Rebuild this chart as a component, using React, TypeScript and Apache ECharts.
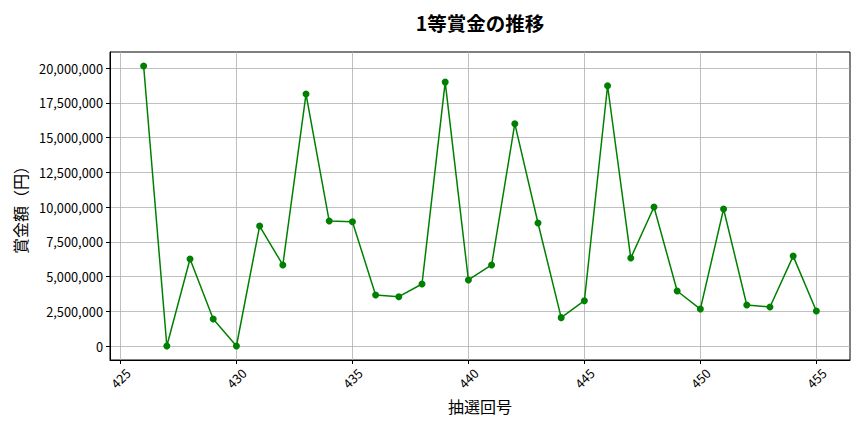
import { useEffect, useRef } from 'react'
import * as echarts from 'echarts'

const rounds = [
  426, 427, 428, 429, 430, 431, 432, 433, 434, 435, 436, 437, 438, 439, 440,
  441, 442, 443, 444, 445, 446, 447, 448, 449, 450, 451, 452, 453, 454, 455,
]
const prizes = [
  20150000, 0, 6260000, 1940000, 0, 8630000, 5830000, 18130000, 8990000, 8940000,
  3670000, 3550000, 4460000, 18990000, 4750000, 5830000, 16000000, 8850000, 2040000, 3260000,
  18730000, 6330000, 10000000, 3960000, 2660000, 9860000, 2950000, 2810000, 6470000, 2520000,
]
const xTicks = [425, 430, 435, 440, 445, 450, 455]
const yTicks = [0, 2500000, 5000000, 7500000, 10000000, 12500000, 15000000, 17500000, 20000000]

const FONT = '"Noto Sans CJK JP", "Noto Sans", sans-serif'

// matplotlib-style 5% margins around the data
const xSpan = rounds[rounds.length - 1] - rounds[0]
const xMin = rounds[0] - xSpan * 0.05
const xMax = rounds[rounds.length - 1] + xSpan * 0.05
const yTop = Math.max(...prizes)
const yMin = -yTop * 0.05
const yMax = yTop * 1.05

export default function App() {
  const ref = useRef<HTMLDivElement | null>(null)

  useEffect(() => {
    if (!ref.current) {
      return
    }
    const chart = echarts.init(ref.current, undefined, { renderer: 'svg' })

    chart.setOption({
      animation: false,
      backgroundColor: '#ffffff',
      textStyle: { fontFamily: FONT },
      title: {
        text: '1等賞金の推移',
        left: 475,
        top: 8,
        textAlign: 'center',
        textStyle: { fontFamily: FONT, fontSize: 19.5, fontWeight: 'bold', color: '#000' },
      },
      grid: {
        left: 110,
        right: 14,
        top: 52,
        bottom: 72,
        show: true,
        borderColor: '#000',
        borderWidth: 1,
        backgroundColor: 'transparent',
      },
      xAxis: {
        type: 'value',
        min: xMin,
        max: xMax,
        name: '抽選回号',
        nameLocation: 'middle',
        nameGap: 38,
        nameTextStyle: { fontFamily: FONT, fontSize: 16, color: '#000' },
        axisLine: { show: true, onZero: false, lineStyle: { color: '#000', width: 1 } },
        axisTick: {
          show: true,
          inside: false,
          length: 4,
          customValues: xTicks,
          lineStyle: { color: '#000' },
        },
        axisLabel: {
          customValues: xTicks,
          rotate: 45,
          align: 'center',
          verticalAlign: 'middle',
          margin: 18,
          fontSize: 12.8,
          color: '#000',
          fontFamily: FONT,
        },
        splitLine: { show: true, lineStyle: { color: '#b0b0b0', width: 0.8 } },
      },
      yAxis: {
        type: 'value',
        min: yMin,
        max: yMax,
        name: '賞金額（円）',
        nameLocation: 'middle',
        nameGap: 80,
        nameRotate: 90,
        nameTextStyle: { fontFamily: FONT, fontSize: 16, color: '#000' },
        axisLine: { show: true, onZero: false, lineStyle: { color: '#000', width: 1 } },
        axisTick: {
          show: true,
          inside: false,
          length: 4,
          customValues: yTicks,
          lineStyle: { color: '#000' },
        },
        axisLabel: {
          customValues: yTicks,
          margin: 7,
          fontSize: 12.8,
          color: '#000',
          fontFamily: FONT,
          formatter: (v: number) => v.toLocaleString('en-US'),
        },
        splitLine: { show: true, lineStyle: { color: '#b0b0b0', width: 0.8 } },
      },
      series: [
        {
          type: 'line',
          data: rounds.map((r, i) => [r, prizes[i]]),
          symbol: 'circle',
          symbolSize: 7,
          itemStyle: { color: '#008000' },
          lineStyle: { color: '#008000', width: 1.5 },
        },
      ],
    })

    return () => {
      chart.dispose()
    }
  }, [])

  return (
    <div
      ref={ref}
      style={{ position: 'fixed', left: 0, top: 0, width: 864, height: 432 }}
    />
  )
}
